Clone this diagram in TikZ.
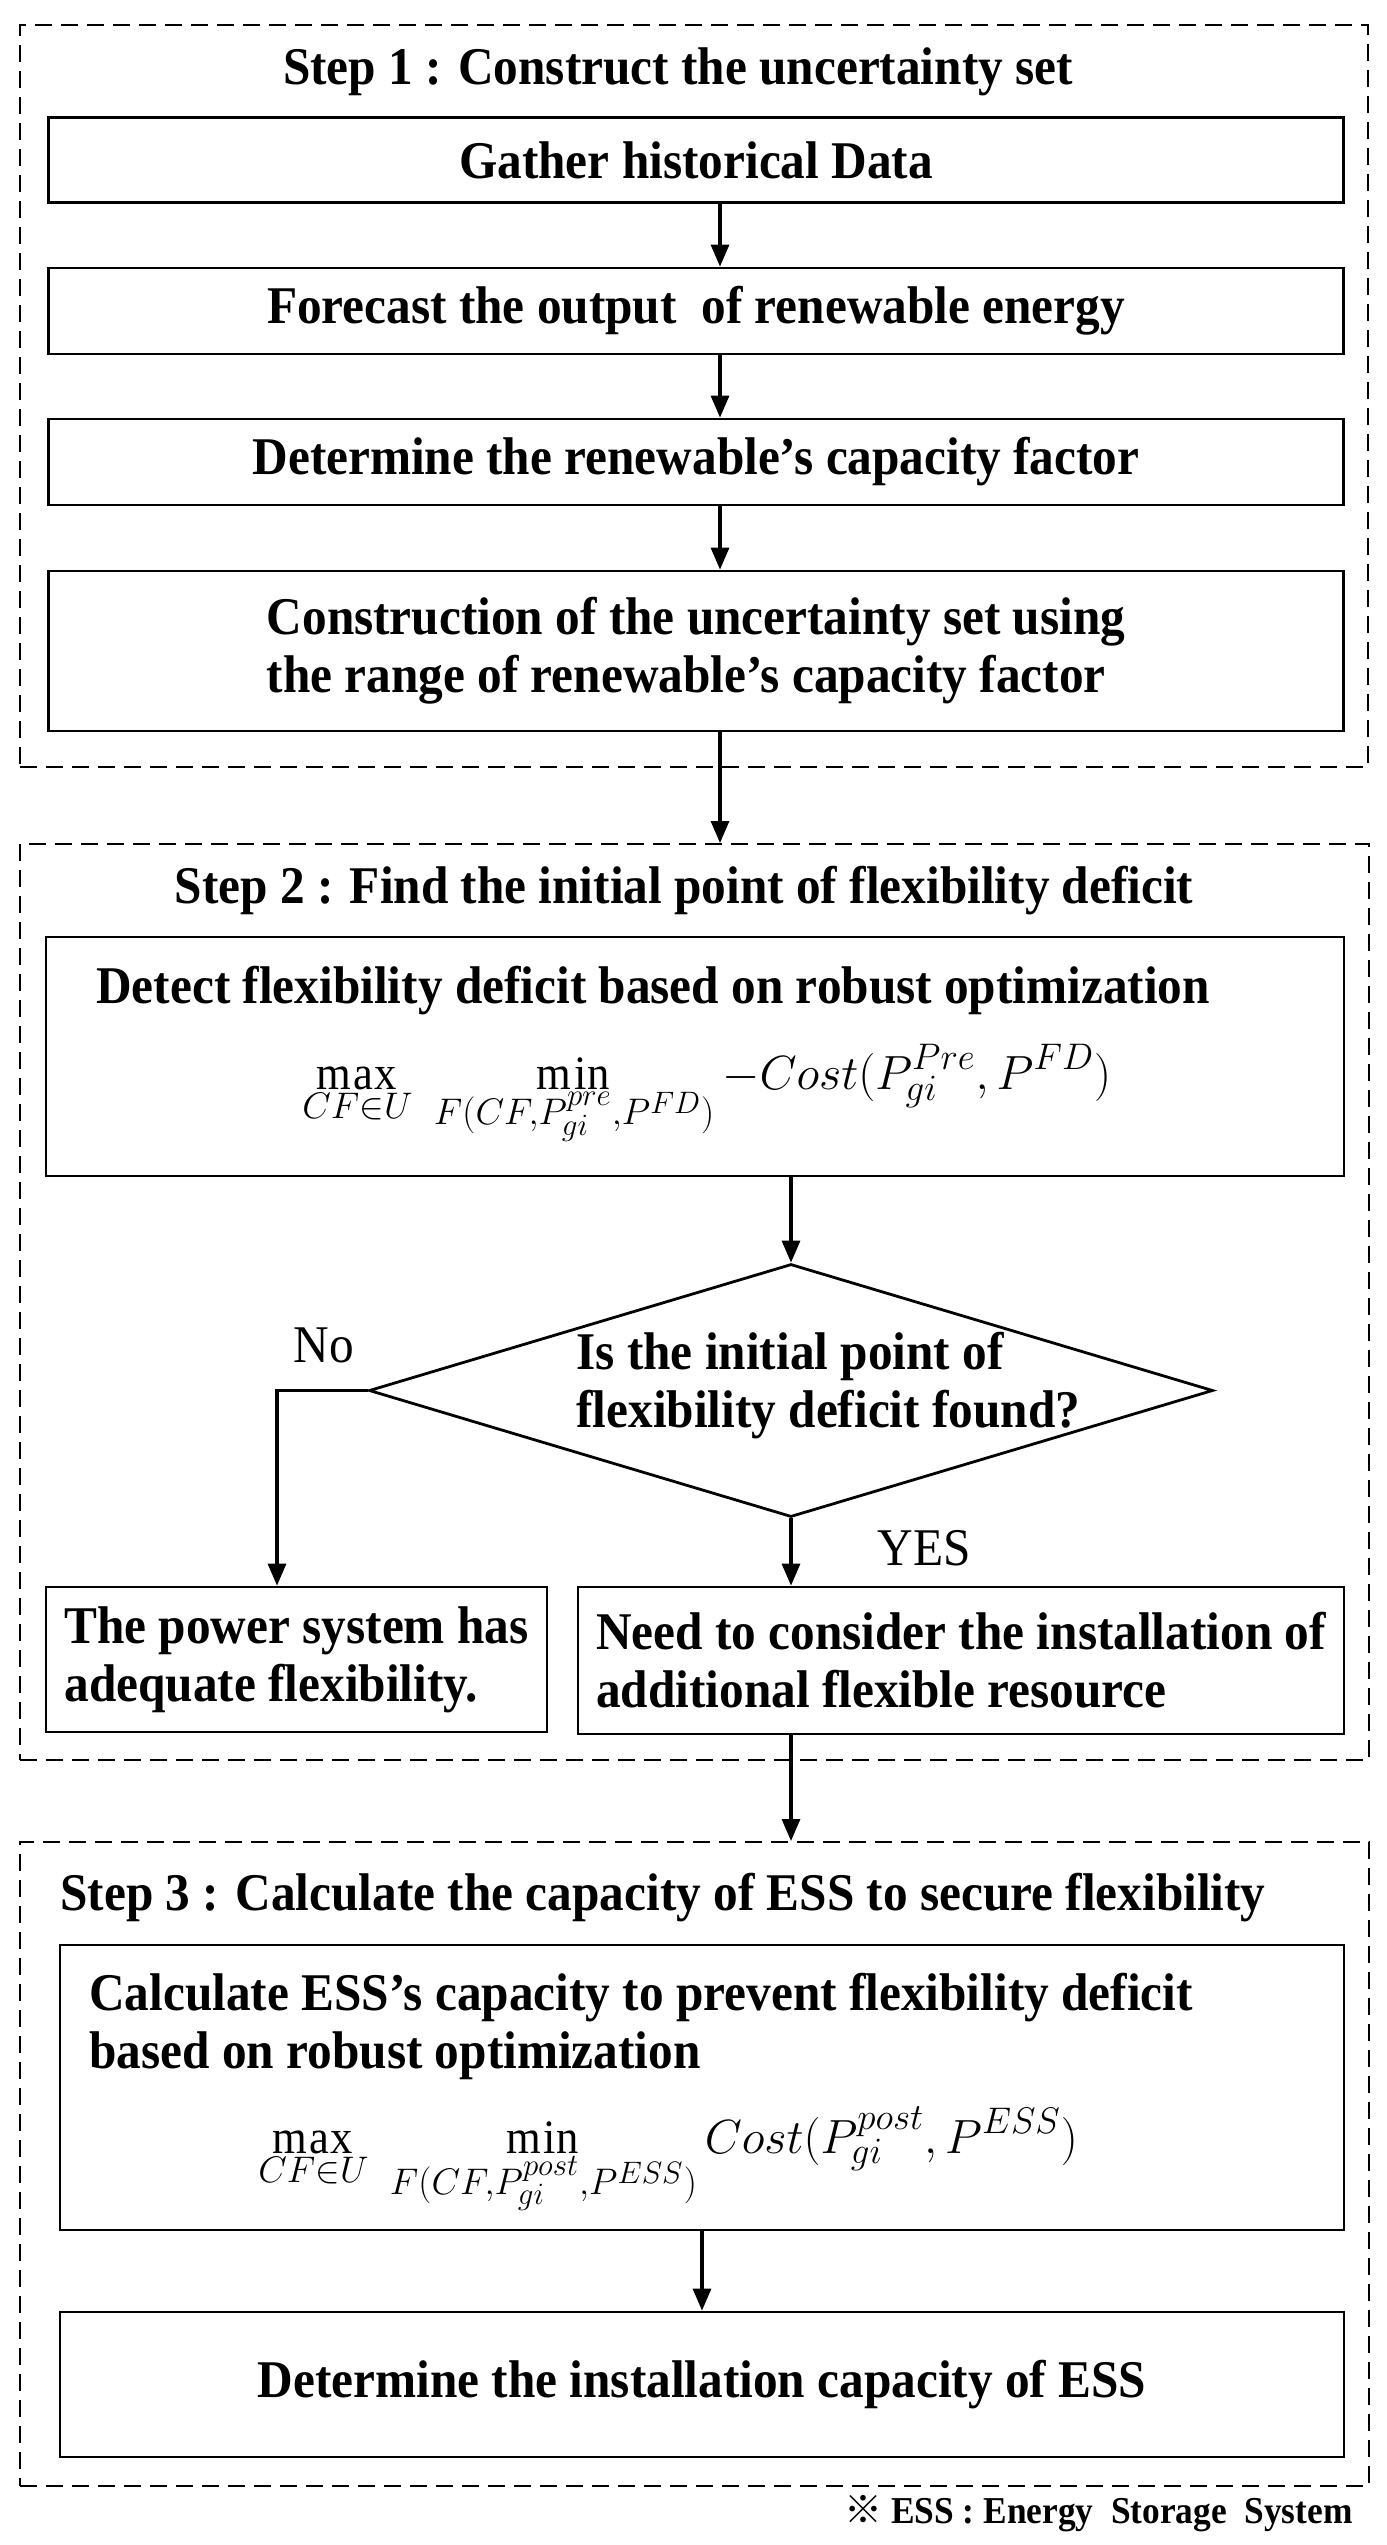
\documentclass[tikz,border=0pt]{standalone}
\usepackage{fix-cm}
\usepackage{fontspec}
\setmainfont{Liberation Serif}[FakeStretch=0.93]
\newfontfamily\cjk{Noto Sans CJK SC}
\usetikzlibrary{calc,shapes.geometric,arrows.meta}
\DeclareMathSizes{24}{24}{18.5}{15.5}
\newcommand{\Px}{0.5pt}
\newcommand{\Txt}{\bfseries\fontsize{26.5}{29}\selectfont}
\tikzset{Block/.style={
    inner sep=0pt,
    draw=black,
    line width=1.4pt,
    align=center,
    font=\Txt,
    }
}

\begin{document}
\begin{tikzpicture}[x=\Px, y=-\Px,
    Frame/.style={draw=black, line width=1pt, dash pattern=on 8.5pt off 4.5pt, inner sep=0pt},
    Arr/.style={line width=1.6pt, -{Triangle[length=11pt,width=9pt]}},
    Plain/.style={inner sep=0pt, font=\Txt},
    Math/.style={inner sep=0pt, font=\fontsize{24}{29}\selectfont},
]
\useasboundingbox (0,0) rectangle (1387,2545);
% Step 1
\node [Frame, minimum width=1348*\Px, minimum height=742*\Px] (frame1) at (694,396) {};
\node [Plain] (title1) at (678,72) {Step 1 : Construct the uncertainty set};
\node [Block, minimum width=1295*\Px, minimum height=85*\Px] (gather) at (696,160) {Gather historical Data};
\node [Block, minimum width=1295*\Px, minimum height=86*\Px] (forecast) at (696,311) {Forecast the output~ of renewable energy};
\node [Block, minimum width=1295*\Px, minimum height=86*\Px] (factor) at (696,462) {Determine the renewable’s capacity factor};
\node [Block, minimum width=1295*\Px, minimum height=160*\Px, align=left] (uset) at (696,651) {Construction of the uncertainty set using\\the range of renewable’s capacity factor};
\coordinate (a1) at (720,0);
\draw[Arr] (gather.south -| a1) -- (forecast.north -| a1);
\draw[Arr] (forecast.south -| a1) -- (factor.north -| a1);
\draw[Arr] (factor.south -| a1) -- (uset.north -| a1);
% Step 2
\node [Frame, minimum width=1349*\Px, minimum height=916*\Px] (frame2) at (694.5,1302) {};
\draw[Arr] (uset.south -| a1) -- (frame2.north -| a1);
\node [Plain] (title2) at (684,891) {Step 2 : Find the initial point of flexibility deficit};
\node [Block, minimum width=1298*\Px, minimum height=239*\Px] (detect) at (695,1056.5) {};
\node [Plain, anchor=base west] (detecttxt) at (96,1003) {Detect flexibility deficit based on robust optimization};
\node [Math, anchor=base west] (obj1) at (302,1089) {$\displaystyle\max_{CF\in U}\;\min_{F(CF,P_{gi}^{pre},P^{FD})} -Cost(P_{gi}^{Pre},P^{FD})$};
\node [draw=black, line width=1.4pt, shape=diamond, minimum width=844*\Px, minimum height=253*\Px, inner sep=0pt] (found) at (791,1390.5) {};
\node [Plain, align=left, anchor=west] (foundtxt) at (576,1386) {Is the initial point of\\flexibility deficit found?};
\node [inner sep=0pt, font=\fontsize{26.5}{29}\selectfont] (no) at (324,1345) {No};
\node [inner sep=0pt, font=\fontsize{26.5}{29}\selectfont] (yes) at (924,1548) {YES};
\node [Block, minimum width=501*\Px, minimum height=145*\Px, align=left] (adequate) at (296.5,1659.5) {The power system has\\adequate flexibility.};
\node [Block, minimum width=766*\Px, minimum height=147*\Px, align=left] (needs) at (961,1660.5) {Need to consider the installation of\\additional flexible resource};
\coordinate (a4) at (277,0);
\draw[Arr] (detect.south -| found.north) -- (found.north);
\draw[Arr] (found.west) -| (adequate.north -| a4);
\draw[Arr] (found.south) -- (needs.north -| found.south);
% Step 3
\node [Frame, minimum width=1349*\Px, minimum height=644*\Px] (frame3) at (694.5,2164) {};
\draw[Arr] (needs.south -| found.south) -- (frame3.north -| found.south);
\node [Plain, anchor=west] (title3) at (60,1898) {Step 3 : Calculate the capacity of ESS to secure flexibility};
\node [Block, minimum width=1284*\Px, minimum height=285*\Px] (calc) at (702,2087.5) {};
\node [Plain, align=left, anchor=west] (calctxt) at (89,2026) {Calculate ESS’s capacity to prevent flexibility deficit\\based on robust optimization};
\node [Math, anchor=base west] (obj2) at (258,2153) {$\displaystyle\max_{CF\in U}\;\min_{F(CF,P_{gi}^{post},P^{ESS})} Cost(P_{gi}^{post},P^{ESS})$};
\node [Block, minimum width=1284*\Px, minimum height=145*\Px] (install) at (702,2384.5) {Determine the installation capacity of ESS};
\draw[Arr] (calc.south) -- (install.north);
\node [anchor=base east, inner sep=0pt, font=\bfseries\fontsize{19}{22}\selectfont] (note) at (1353,2523) {{\cjk ※} ESS : Energy~ Storage~ System};
\end{tikzpicture}
\end{document}
